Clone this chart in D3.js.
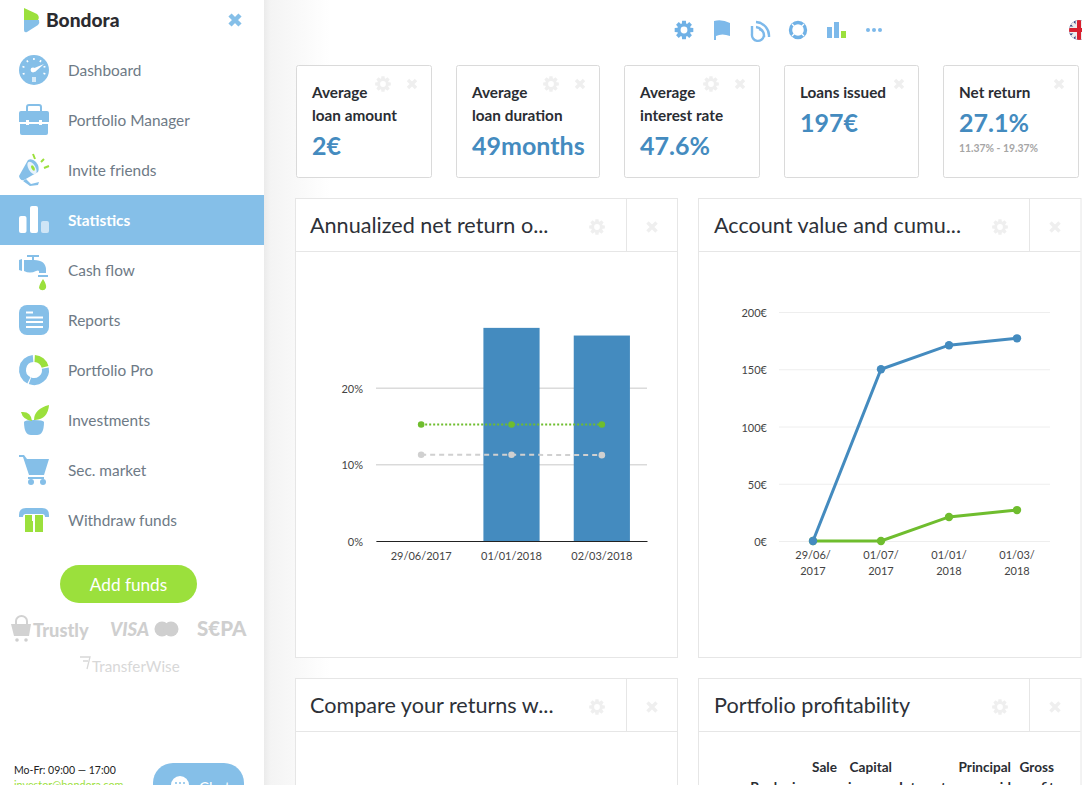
<!DOCTYPE html>
<html><head><meta charset="utf-8">
<script src="https://cdn.jsdelivr.net/npm/d3@7"></script>
<style>
html,body{margin:0;padding:0;background:#fff;overflow:hidden}
svg{display:block}
text{font-family:Lato,"Open Sans",sans-serif}
</style></head><body>
<svg id="c" width="1082" height="785" xmlns="http://www.w3.org/2000/svg"></svg>
<script>
// ---- data ----
const navItems=["Dashboard","Portfolio Manager","Invite friends","Statistics","Cash flow","Reports","Portfolio Pro","Investments","Sec. market","Withdraw funds"];
const cardTitles=[["Average","loan amount"],["Average","loan duration"],["Average","interest rate"],["Loans issued"],["Net return"]];
const cardValues=["2€","49months","47.6%","197€","27.1%"];
const panelTitles=["Annualized net return o...","Account value and cumu...","Compare your returns w...","Portfolio profitability"];
const returnDates=["29/06/2017","01/01/2018","02/03/2018"];
const netReturn=[null,27.8,26.8];
const upperBound=[15.2,15.2,15.2];
const lowerBound=[11.25,11.25,11.2];
const returnTicks=[0,10,20];
const valueDates=[["29/06/","2017"],["01/07/","2017"],["01/01/","2018"],["01/03/","2018"]];
const accountValue=[0,150,171,177];
const cumulativeProfit=[0,0,21,27];
const valueTicks=[0,50,100,150,200];

const BLUE="#85bfe8",GREEN="#9be03c",BAR="#448bbf",LINEG="#6fbd2e";
const svg=d3.select("#c");
const defs=svg.append("defs");
const grad=defs.append("linearGradient").attr("id","shade");
grad.append("stop").attr("offset",0).attr("stop-color","#ebebeb");
grad.append("stop").attr("offset",.1).attr("stop-color","#f4f4f4");
grad.append("stop").attr("offset",1).attr("stop-color","#fff");
svg.append("rect").attr("x",264).attr("y",0).attr("width",66).attr("height",785).attr("fill","url(#shade)");
svg.append("rect").attr("width",264).attr("height",785).attr("fill","#fff");

function gearPath(r){
  const n=8,pts=[];
  for(let i=0;i<n;i++){
    const a=i/n*2*Math.PI,w=.2;
    [[.72,-w*1.6],[1,-w],[1,w],[.72,w*1.6]].forEach(p=>pts.push([r*p[0]*Math.cos(a+p[1]),r*p[0]*Math.sin(a+p[1])]));
  }
  const hole=r*.36;
  return d3.line()(pts)+`Z M${hole},0 A${hole},${hole} 0 1,0 ${-hole},0 A${hole},${hole} 0 1,0 ${hole},0Z`;
}
function gear(g,x,y,r,c){g.append("path").attr("transform",`translate(${x},${y})`).attr("d",gearPath(r)).attr("fill",c).attr("fill-rule","evenodd");}
function cross(g,x,y,s,w,c){g.append("path").attr("d",`M${x-s},${y-s}L${x+s},${y+s}M${x+s},${y-s}L${x-s},${y+s}`).attr("stroke",c).attr("stroke-width",w).attr("fill","none");}

// ---- logo ----
const logo=svg.append("g");
logo.append("path").attr("d","M24,8 L37,14 Q40,17 38,20 L24,26Z").attr("fill",GREEN);
logo.append("path").attr("d","M24,20 L39,20 Q40,23 38,25 L27,32 Q24,33 24,30Z").attr("fill",BLUE);
logo.append("text").attr("x",46).attr("y",27).attr("font-size",19.2).attr("font-weight",900).attr("fill","#2b2b30").text("Bondora");
cross(logo,235,20,5,4.5,BLUE);

// ---- nav ----
svg.append("rect").attr("x",0).attr("y",195).attr("width",264).attr("height",50).attr("fill",BLUE);
const iconFns=[
 g=>{g.append("circle").attr("r",15).attr("fill",BLUE);
     d3.range(7).forEach(i=>{const a=(-200+i*36.5)*Math.PI/180;g.append("line").attr("x1",10*Math.cos(a)).attr("y1",10*Math.sin(a)).attr("x2",12*Math.cos(a)).attr("y2",12*Math.sin(a)).attr("stroke","#fff").attr("stroke-width",1.6);});
     g.append("path").attr("d","M-2,-1 L10,-6 L1,2Z").attr("fill","#fff");g.append("circle").attr("r",2.4).attr("cx",-1).attr("fill","#fff");
     g.append("rect").attr("x",-2).attr("y",7).attr("width",4).attr("height",5).attr("fill","#d7ebf8");},
 g=>{g.append("path").attr("d","M-7,-9 V-13 Q-7,-15 -5,-15 H5 Q7,-15 7,-13 V-9").attr("fill","none").attr("stroke",BLUE).attr("stroke-width",2);
     g.append("path").attr("d","M-15,-7 Q-15,-9 -13,-9 H13 Q15,-9 15,-7 V2 H-15Z").attr("fill",BLUE);
     g.append("path").attr("d","M-14,4 H14 V13 Q14,15 12,15 H-12 Q-14,15 -14,13Z").attr("fill",BLUE);
     g.append("rect").attr("x",-8).attr("y",0).attr("width",3).attr("height",5).attr("fill","#fff");g.append("rect").attr("x",5).attr("y",0).attr("width",3).attr("height",5).attr("fill","#fff");},
 g=>{g.append("path").attr("d","M-15,6 L-6,-10 Q-2,-12 2,-8 Q6,-3 4,2 L-10,10 Q-14,11 -15,6Z").attr("fill",BLUE);
     g.append("path").attr("d","M-8,9 L-3,14 L5,12 L4,15 L-4,16 L-11,11Z").attr("fill",BLUE);
     g.append("ellipse").attr("cx",-2).attr("cy",-2).attr("rx",3.5).attr("ry",7).attr("transform","rotate(-30 -2 -2)").attr("fill","#e8f3fb");
     g.append("ellipse").attr("cx",-1).attr("cy",-2).attr("rx",1.5).attr("ry",3).attr("transform","rotate(-30 -1 -2)").attr("fill",GREEN);
     g.append("path").attr("d","M1,-11 L-1,-16 M7,-8 L10,-11 M10,-2 L15,-4").attr("stroke",GREEN).attr("stroke-width",2);},
 g=>{g.append("rect").attr("x",-15).attr("y",-4).attr("width",7.5).attr("height",17).attr("rx",2).attr("fill","#fff");
     g.append("rect").attr("x",-4).attr("y",-14).attr("width",8).attr("height",27).attr("rx",2).attr("fill","#fff");
     g.append("rect").attr("x",7).attr("y",1).attr("width",8).attr("height",12).attr("rx",2).attr("fill","#cfe5f6");},
 g=>{g.append("path").attr("d","M-15,-10 L-12,-11 V1 L-15,0Z M-10,-10 H-2 V-13 H-7 V-15 H5 V-13 H0 V-10 Q12,-10 12,0 V3 H5 V1 Q4,0 2,1 Q-4,4 -10,1Z").attr("fill",BLUE);
     g.append("rect").attr("x",4).attr("y",5).attr("width",10).attr("height",2).attr("fill",BLUE);
     g.append("path").attr("d","M9,9 Q13,15 12,18 A3.8,3.8 0 0 1 5,18 Q5,15 9,9Z").attr("fill",GREEN);},
 g=>{g.append("rect").attr("x",-15).attr("y",-15).attr("width",30).attr("height",30).attr("rx",8).attr("fill",BLUE);
     [[-8,-8.5,7],[-8,-3.5,17],[-8,1,17],[-8,6,17]].forEach(d=>g.append("rect").attr("x",d[0]).attr("y",d[1]).attr("width",d[2]).attr("height",2).attr("fill","#fff"));},
 g=>{const arc=d3.arc().innerRadius(8).outerRadius(15);
     g.append("path").attr("d",arc({startAngle:0.06,endAngle:1.3})).attr("fill",GREEN);
     g.append("path").attr("d",arc({startAngle:1.4,endAngle:3.5})).attr("fill",BLUE);
     g.append("path").attr("d",arc({startAngle:3.6,endAngle:6.2})).attr("fill",BLUE);},
 g=>{g.append("path").attr("d","M-10,2 H10 Q10,15 3,15 H-3 Q-10,15 -10,2Z").attr("fill",BLUE);
     g.append("ellipse").attr("cy",2).attr("rx",10).attr("ry",2).attr("fill",BLUE);
     g.append("path").attr("d","M0,0 Q0,-11 15,-15 Q14,-1 1,0Z").attr("fill",GREEN);
     g.append("path").attr("d","M-2,1 Q-3,-9 -13,-8 Q-11,0 -2,1Z").attr("fill",GREEN);},
 g=>{g.append("path").attr("d","M-15,-15 H-10 L-7,-11 H15 L10,5 H-5 L-11,-13 H-15Z").attr("fill",BLUE);
     g.append("rect").attr("x",-6).attr("y",7).attr("width",16).attr("height",2).attr("fill",BLUE);
     g.append("circle").attr("cx",-3).attr("cy",12).attr("r",3).attr("fill",BLUE);g.append("circle").attr("cx",9).attr("cy",12).attr("r",3).attr("fill",BLUE);},
 g=>{g.append("path").attr("d","M-15,-5 Q-15,-12 -8,-12 H8 Q15,-12 15,-5 V-3 H11 Q11,-6 8,-6 H-8 Q-11,-6 -11,-3 H-15Z").attr("fill",BLUE);
     g.append("path").attr("d","M-9,-5 H-2 V1 H-1 V12 H-9Z M1,-5 H9 V12 H1Z").attr("fill",GREEN);}
];
const nav=svg.selectAll("g.nav").data(navItems).join("g").attr("class","nav");
nav.append("text").attr("x",68).attr("y",(d,i)=>76+50*i).attr("font-size",15.4).attr("font-weight",(d,i)=>i===3?700:400)
  .attr("fill",(d,i)=>i===3?"#fff":"#6e7a86").text(d=>d);
nav.each(function(d,i){iconFns[i](d3.select(this).append("g").attr("transform",`translate(34,${70+50*i})`));});

// ---- sidebar bottom ----
svg.append("rect").attr("x",60).attr("y",565).attr("width",137).attr("height",38).attr("rx",19).attr("fill",GREEN);
svg.append("text").attr("x",128.5).attr("y",590.5).attr("text-anchor","middle").attr("font-size",17.2).attr("fill","#fff").text("Add funds");
const pay=svg.append("g").attr("fill","#cfcfcf");
pay.append("path").attr("d","M11,624 H31 L29,636 H14Z").attr("fill","#d2d2d2");
pay.append("path").attr("d","M16,624 V621 A5,4.5 0 0 1 27,621 V624").attr("fill","none").attr("stroke","#d2d2d2").attr("stroke-width",2);
pay.append("circle").attr("cx",17).attr("cy",640).attr("r",1.8);pay.append("circle").attr("cx",26).attr("cy",640).attr("r",1.8);
pay.append("text").attr("x",33).attr("y",637).attr("font-size",18.2).attr("font-weight",900).text("Trustly");
pay.append("text").attr("x",110).attr("y",636).attr("font-size",18.6).attr("font-weight",900).attr("font-style","italic").text("VISA");
pay.append("circle").attr("cx",162).attr("cy",629).attr("r",7.5);pay.append("circle").attr("cx",171).attr("cy",629).attr("r",7.5);
pay.append("text").attr("x",197).attr("y",636).attr("font-size",20.5).attr("font-weight",900).text("S€PA");
svg.append("path").attr("d","M80,657 H90 L87,669 M83,661 L88,661").attr("stroke","#d8d8d8").attr("stroke-width",1.3).attr("fill","none");
svg.append("text").attr("x",92).attr("y",672).attr("font-size",15.2).attr("fill","#d8d8d8").text("TransferWise");
svg.append("text").attr("x",14).attr("y",774).attr("font-size",10.5).attr("fill","#222").text("Mo-Fr: 09:00 — 17:00");
svg.append("text").attr("x",14).attr("y",789).attr("font-size",10.8).attr("fill",GREEN).text("investor@bondora.com");
svg.append("rect").attr("x",153).attr("y",763).attr("width",91).attr("height",50).attr("rx",20).attr("fill",BLUE);
svg.append("circle").attr("cx",180).attr("cy",785).attr("r",9).attr("fill","#fff");
[176,180,184].forEach(x=>svg.append("circle").attr("cx",x).attr("cy",783).attr("r",1).attr("fill",BLUE));
svg.append("text").attr("x",199).attr("y",793).attr("font-size",15).attr("fill","#fff").text("Chat");

// ---- top icons ----
const topBar=svg.append("g");
gear(topBar,684,30,9.5,"#6fb1e6");
topBar.append("path").attr("d","M714,21 Q722,19 730,23 V36 Q722,33 716,36 V40 H714Z").attr("fill","#7db9ea");
topBar.append("path").attr("d","M752,26 V34 A6,6 0 1 0 759,29 M756,22 A14,14 0 0 1 769,37 M756,27 A9,9 0 0 1 764,37").attr("fill","none").attr("stroke","#7db9ea").attr("stroke-width",2.4);
topBar.append("circle").attr("cx",798).attr("cy",30).attr("r",7.5).attr("fill","none").attr("stroke","#6fb1e6").attr("stroke-width",3.4);
topBar.append("path").attr("d","M792,24 L804,36 M804,24 L792,36").attr("stroke","#fff").attr("stroke-width",1.3);
topBar.append("rect").attr("x",827).attr("y",27).attr("width",5).attr("height",11).attr("fill","#7db9ea");
topBar.append("rect").attr("x",834).attr("y",22).attr("width",5).attr("height",16).attr("fill","#7db9ea");
topBar.append("rect").attr("x",841).attr("y",31).attr("width",5).attr("height",7).attr("fill",GREEN);
[868,874,880].forEach(x=>topBar.append("circle").attr("cx",x).attr("cy",30).attr("r",2).attr("fill","#7db9ea"));
defs.append("clipPath").attr("id","flagc").append("circle").attr("cx",1079).attr("cy",30).attr("r",10);
const flag=svg.append("g").attr("clip-path","url(#flagc)");
flag.append("rect").attr("x",1069).attr("y",20).attr("width",20).attr("height",20).attr("fill","#2b3a78");
flag.append("path").attr("d","M1069,20 L1089,40 M1089,20 L1069,40").attr("stroke","#eee").attr("stroke-width",3.5);
flag.append("rect").attr("x",1069).attr("y",26.5).attr("width",20).attr("height",7).attr("fill","#eee");
flag.append("rect").attr("x",1075.5).attr("y",20).attr("width",7).attr("height",20).attr("fill","#eee");
flag.append("rect").attr("x",1069).attr("y",28).attr("width",20).attr("height",4).attr("fill","#d8202f");
flag.append("rect").attr("x",1077).attr("y",20).attr("width",4).attr("height",20).attr("fill","#d8202f");

// ---- KPI cards ----
const cardBoxes=[[296,135,true],[456,143,true],[624,135,true],[784,134,false],[943,135,false]];
cardBoxes.forEach((b,i)=>{
  const g=svg.append("g");
  g.append("rect").attr("x",b[0]+.5).attr("y",65.5).attr("width",b[1]).attr("height",112).attr("rx",2).attr("fill","#fff").attr("stroke","#dadada");
  const tx=b[0]+16;
  cardTitles[i].forEach((t,j)=>g.append("text").attr("x",tx).attr("y",98+23*j).attr("font-size",15.3).attr("font-weight",700).attr("fill","#2a2d33").text(t));
  g.append("text").attr("x",tx).attr("y",cardTitles[i].length===2?155:131.5).attr("font-size",25).attr("font-weight",700).attr("fill",BAR).text(cardValues[i]);
  const r=b[0]+b[1];
  cross(g,r-19,84,4,3.5,"#efefef");
  if(b[2]) gear(g,r-48,84,8,"#efefef");
});
svg.append("text").attr("x",959).attr("y",152).attr("font-size",10.4).attr("font-weight",700).attr("fill","#a5a5a5").text("11.37% - 19.37%");

// ---- panels ----
const panelBoxes=[[295,198,382,459],[698,198,382.5,459],[295,678,382,140],[698,678,382.5,140]];
panelBoxes.forEach((b,i)=>{
  const g=svg.append("g");
  g.append("rect").attr("x",b[0]+.5).attr("y",b[1]+.5).attr("width",b[2]).attr("height",b[3]).attr("fill","#fff").attr("stroke","#e6e6e6");
  g.append("line").attr("x1",b[0]).attr("x2",b[0]+b[2]).attr("y1",b[1]+53.5).attr("y2",b[1]+53.5).attr("stroke","#e6e6e6");
  g.append("line").attr("x1",b[0]+331.5).attr("x2",b[0]+331.5).attr("y1",b[1]).attr("y2",b[1]+53).attr("stroke","#e6e6e6");
  g.append("text").attr("x",b[0]+(i%2?16:15)).attr("y",b[1]+35).attr("font-size",21.6).attr("fill","#2d3138").text(panelTitles[i]);
  gear(g,b[0]+302,b[1]+29,8,"#efefef");
  cross(g,b[0]+357,b[1]+29,4.5,3.5,"#efefef");
});

// ---- Chart 1 ----
const y1=d3.scaleLinear().domain([0,30]).range([541,311]);
const x1=d3.scaleBand().domain(returnDates).range([376,647]).paddingInner(.378).paddingOuter(.189);
const g1=svg.append("g");
const ax1=g1.append("g").attr("transform","translate(376,0)")
  .call(d3.axisLeft(y1).tickValues(returnTicks).tickSize(-271).tickPadding(13).tickFormat(d=>d+"%"));
ax1.select(".domain").remove();
ax1.selectAll("line").attr("stroke","#c8c8c8");
ax1.selectAll("text").attr("font-size",11).attr("fill","#444").attr("dy","0.42em");
g1.selectAll("rect.bar").data(returnDates.map((d,i)=>({d,v:netReturn[i]})).filter(e=>e.v!=null)).join("rect").attr("class","bar")
  .attr("x",e=>x1(e.d)).attr("width",x1.bandwidth()).attr("y",e=>y1(e.v)).attr("height",e=>y1(0)-y1(e.v)).attr("fill",BAR);
const bx=g1.append("g").attr("transform",`translate(0,${y1(0)})`).call(d3.axisBottom(x1).tickSize(0).tickPadding(11));
bx.select(".domain").attr("stroke","#222");
bx.selectAll("text").attr("font-size",11).attr("fill","#444");
[[upperBound,LINEG,"2,2"],[lowerBound,"#d0d0d0","5,4"]].forEach(([vals,col,dash])=>{
  const cx=i=>x1(returnDates[i])+x1.bandwidth()/2;
  g1.append("path").attr("d",d3.line().x((v,i)=>cx(i)).y(v=>y1(v))(vals)).attr("fill","none").attr("stroke",col).attr("stroke-width",2).attr("stroke-dasharray",dash);
  g1.selectAll(null).data(vals).join("circle").attr("cx",(v,i)=>cx(i)).attr("cy",v=>y1(v)).attr("r",3.3).attr("fill",col);
});

// ---- Chart 2 ----
const y2=d3.scaleLinear().domain([0,200]).range([541,312]);
const x2=d3.scaleBand().domain(valueDates.map(d=>d.join(""))).range([779,1051]);
const g2=svg.append("g");
const ax2=g2.append("g").attr("transform","translate(779,0)")
  .call(d3.axisLeft(y2).tickValues(valueTicks).tickSize(-271).tickPadding(12).tickFormat(d=>d+"€"));
ax2.select(".domain").remove();
ax2.selectAll("line").attr("stroke","#eeeeee");
ax2.selectAll("text").attr("font-size",11).attr("fill","#444").attr("dy","0.42em");
const bx2=g2.append("g").attr("transform",`translate(0,${y2(0)})`).call(d3.axisBottom(x2).tickSize(0).tickPadding(10));
bx2.select(".domain").remove();
bx2.selectAll("text").attr("font-size",11).attr("fill","#444").text(null).each(function(d,i){
  const t=d3.select(this);
  valueDates[i].forEach((s,j)=>t.append("tspan").attr("x",0).attr("dy",j?16:"0.71em").text(s));
});
[[cumulativeProfit,LINEG],[accountValue,BAR]].forEach(([vals,col])=>{
  const cx=i=>x2(valueDates[i].join(""))+x2.bandwidth()/2;
  g2.append("path").attr("d",d3.line().x((v,i)=>cx(i)).y(v=>y2(v))(vals)).attr("fill","none").attr("stroke",col).attr("stroke-width",3);
  g2.selectAll(null).data(vals).join("circle").attr("cx",(v,i)=>cx(i)).attr("cy",v=>y2(v)).attr("r",4.2).attr("fill",col);
});

// ---- clipped table header ----
const thead1=[["Sale",837],["Capital",892],["Principal",1011],["Gross",1054]];
const thead2=[["Bank",781],["income",836],["income",892],["Interest",946],["paid",1011],["profit",1054]];
[[thead1,772],[thead2,792]].forEach(([rows,y])=>rows.forEach(r=>svg.append("text").attr("x",r[1]).attr("y",y).attr("text-anchor","end").attr("font-size",13.6).attr("font-weight",700).attr("fill","#2a2d33").text(r[0])));
</script>
</body></html>
